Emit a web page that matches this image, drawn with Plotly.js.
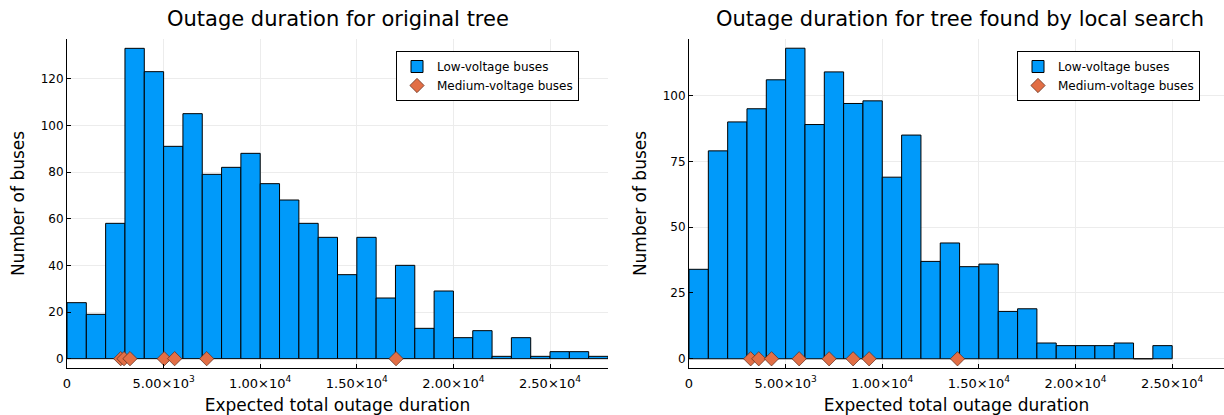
<!DOCTYPE html>
<html>
<head>
<meta charset="utf-8">
<script src="https://cdn.plot.ly/plotly-3.0.1.min.js"></script>
<style>html,body{margin:0;padding:0;background:#fff;}#chart{width:1224px;height:415px;}</style>
</head>
<body>
<div id="chart"></div>
<script>
// Bin lower edges (bin width 1000)
const binsLeft = [0,1000,2000,3000,4000,5000,6000,7000,8000,9000,10000,11000,12000,13000,14000,15000,16000,17000,18000,19000,20000,21000,22000,23000,24000,25000,26000,27000];
const countsLeft = [24,19,58,133,123,91,105,79,82,88,75,68,58,52,36,52,26,40,13,29,9,12,1,9,1,3,3,1];
const binsRight = [0,1000,2000,3000,4000,5000,6000,7000,8000,9000,10000,11000,12000,13000,14000,15000,16000,17000,18000,19000,20000,21000,22000,23000,24000];
const countsRight = [34,79,90,95,106,118,89,109,97,98,69,85,37,44,35,36,18,19,6,5,5,5,6,0,5];
const binWidth = 1000;

// Medium-voltage buses (drawn at y = 0)
const mvLeftX = [2780, 2950, 3260, 5030, 5570, 7230, 17030];
const mvLeftY = [0, 0, 0, 0, 0, 0, 0];
const mvRightX = [3190, 3610, 4270, 5700, 7250, 8490, 9320, 13890];
const mvRightY = [0, 0, 0, 0, 0, 0, 0, 0];

const xTickVals = [0, 5000, 10000, 15000, 20000, 25000];
const xTickText = ['0', '5.00×10<sup>3</sup>', '1.00×10<sup>4</sup>', '1.50×10<sup>4</sup>', '2.00×10<sup>4</sup>', '2.50×10<sup>4</sup>'];
const yTicksLeft = [0, 20, 40, 60, 80, 100, 120];
const yTicksRight = [0, 25, 50, 75, 100];

const titles = ['Outage duration for original tree', 'Outage duration for tree found by local search'];
const xTitle = 'Expected total outage duration';
const yTitle = 'Number of buses';
const lvName = 'Low-voltage buses';
const mvName = 'Medium-voltage buses';

const BLUE = '#009AFA';
const ORANGE = '#E26F46';
const FONT = 'DejaVu Sans, sans-serif';
const W = 1224, H = 415;

function centers(b) { return b.map(v => v + binWidth / 2); }

const traces = [
  {type: 'bar', x: centers(binsLeft), y: countsLeft, width: binWidth, name: lvName,
   marker: {color: BLUE, line: {color: '#000', width: 1}}, xaxis: 'x', yaxis: 'y', legend: 'legend'},
  {type: 'scatter', mode: 'markers', x: mvLeftX, y: mvLeftY, name: mvName,
   marker: {symbol: 'diamond', size: 11, color: ORANGE, line: {color: '#5a2a1a', width: 0.7}}, xaxis: 'x', yaxis: 'y', legend: 'legend', cliponaxis: false},
  {type: 'bar', x: centers(binsRight), y: countsRight, width: binWidth, name: lvName,
   marker: {color: BLUE, line: {color: '#000', width: 1}}, xaxis: 'x2', yaxis: 'y2', legend: 'legend2'},
  {type: 'scatter', mode: 'markers', x: mvRightX, y: mvRightY, name: mvName,
   marker: {symbol: 'diamond', size: 11, color: ORANGE, line: {color: '#5a2a1a', width: 0.7}}, xaxis: 'x2', yaxis: 'y2', legend: 'legend2', cliponaxis: false}
];

const py = p => (H - p) / H;
const px = p => p / W;

function xAxis(domain, range, anchor) {
  return {
    domain: domain, range: range, anchor: anchor,
    tickvals: xTickVals, ticktext: xTickText, tickangle: 0,
    showline: true, linecolor: '#000', linewidth: 1, mirror: false,
    ticks: 'inside', ticklen: 4, tickcolor: '#000',
    ticklabelstandoff: 3,
    showgrid: true, gridcolor: '#ececec', gridwidth: 1, zeroline: false,
    tickfont: {family: FONT, size: 13, color: '#000'},
    title: {text: xTitle, font: {family: FONT, size: 17, color: '#000'}, standoff: 9}
  };
}
function yAxis(range, ticks, anchor) {
  return {
    domain: [py(368), py(39)], range: range, anchor: anchor,
    tickvals: ticks,
    showline: true, linecolor: '#000', linewidth: 1, mirror: false,
    ticks: 'inside', ticklen: 4, tickcolor: '#000',
    showgrid: true, gridcolor: '#ececec', gridwidth: 1, zeroline: false,
    tickfont: {family: FONT, size: 12, color: '#000'},
    title: {text: yTitle, font: {family: FONT, size: 17, color: '#000'}, standoff: 11}
  };
}

const legendStyle = {
  bgcolor: '#fff', bordercolor: '#000', borderwidth: 1,
  font: {family: FONT, size: 12, color: '#000'},
  xanchor: 'left', yanchor: 'top', tracegroupgap: 0, itemwidth: 30
};

const layout = {
  width: W, height: H,
  margin: {l: 0, r: 0, t: 0, b: 0},
  paper_bgcolor: '#fff', plot_bgcolor: '#fff',
  bargap: 0, barmode: 'overlay',
  font: {family: FONT, color: '#000'},
  xaxis: xAxis([px(67), px(608)], [0, 28000], 'y'),
  yaxis: yAxis([-4, 137], yTicksLeft, 'x'),
  xaxis2: xAxis([px(689), 1], [0, 27680], 'y2'),
  yaxis2: yAxis([-3.5, 121.5], yTicksRight, 'x2'),
  legend: Object.assign({x: px(396), y: py(51)}, legendStyle),
  legend2: Object.assign({x: px(1017), y: py(51)}, legendStyle),
  annotations: [
    {text: titles[0], xref: 'paper', yref: 'paper', x: px(337.5), y: py(19), xanchor: 'center', yanchor: 'middle', showarrow: false, font: {family: FONT, size: 21, color: '#000'}},
    {text: titles[1], xref: 'paper', yref: 'paper', x: px(960), y: py(19), xanchor: 'center', yanchor: 'middle', showarrow: false, font: {family: FONT, size: 21, color: '#000'}}
  ],
  showlegend: true
};

Plotly.newPlot('chart', traces, layout, {displayModeBar: false, staticPlot: true});
</script>
</body>
</html>
